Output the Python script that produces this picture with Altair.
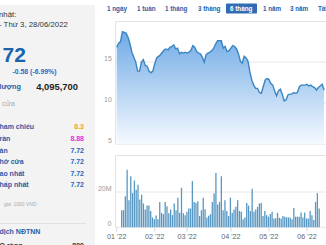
import altair as alt
import pandas as pd

# ---------------- data ----------------
months = ["01 '22", "02 '22", "03 '22", "04 '22", "05 '22", "06 '22"]
month_idx = [0, 20, 37, 60, 80, 100]

price = [16.8, 17.3, 17.5, 18.7, 18.6, 18.5, 18.0, 17.2, 16.2, 15.6,
         15.0, 13.9, 13.9, 15.0, 15.3, 14.6, 14.5, 13.9, 13.7, 13.9,
         14.8, 15.5, 15.7, 15.9, 16.2, 16.5, 16.6, 16.5, 16.8, 16.9,
         17.1, 16.6, 16.7, 16.0, 16.2, 16.1, 16.2, 16.1, 16.2, 16.4,
         17.0, 16.8, 16.3, 16.1, 16.0, 15.6, 15.0, 15.9, 16.1, 16.2,
         16.4, 16.7, 17.2, 17.6, 17.6, 17.6, 16.7, 16.9, 16.3, 16.4,
         16.7, 17.0, 16.9, 16.6, 16.0, 15.1, 14.9, 15.7, 15.5, 15.1,
         13.8, 12.8, 12.2, 11.8, 11.8, 11.3, 11.2, 12.0, 12.8, 13.0,
         12.9, 12.4, 12.2, 11.5, 10.9, 11.5, 11.7, 11.1, 10.3, 10.4,
         11.0, 11.1, 11.1, 11.3, 11.2, 11.3, 12.0, 12.2, 12.2, 12.2,
         12.3, 12.1, 12.2, 12.0, 11.9, 11.6, 11.9, 12.1, 12.3, 11.6]

volume = [9.7, 9.7, 17.6, 32.7, 15.3, 29.0, 19.4, 26.5, 21.3, 24.1,
          15.7, 18.5, 13.5, 10.1, 12.3, 12.3, 9.2, 5.6, 4.5, 6.7,
          4.5, 14.4, 8.2, 7.5, 14.4, 12.0, 7.9, 10.1, 6.9, 13.5,
          9.7, 16.8, 8.2, 22.4, 7.9, 6.9, 8.8, 10.7, 10.7, 26.2,
          14.4, 13.8, 14.8, 6.4, 9.7, 16.8, 10.3, 5.6, 6.5, 7.5,
          14.4, 19.1, 30.8, 12.9, 14.4, 29.0, 9.7, 15.3, 9.3, 6.4,
          16.8, 8.2, 10.1, 11.6, 15.3, 9.3, 8.8, 4.5, 5.6, 13.8,
          12.3, 9.2, 21.9, 8.8, 10.1, 11.6, 13.5, 13.8, 6.4, 9.3,
          6.9, 6.0, 7.5, 8.8, 5.0, 5.2, 8.2, 5.4, 5.0, 6.4,
          6.0, 5.6, 5.6, 5.6, 4.5, 11.0, 6.0, 6.0, 6.0, 8.4,
          5.6, 8.4, 5.0, 5.0, 9.2, 6.9, 4.1, 14.4, 19.4, 10.7]

price_ticks = [5, 10, 15]
vol_ticks = [0, 20]
vol_tick_text = ["0", "20M"]

buttons = ["1 ngày", "1 tuần", "1 tháng", "3 tháng", "6 tháng", "1 năm", "3 năm", "Tất cả"]
active_button = "6 tháng"

info_rows = [("ham chiếu", "8.3"), ("rần", "8.88"), ("àn", "7.72"),
             ("hở cửa", "7.72"), ("ao nhất", "7.72"), ("hấp nhất", "7.72")]

# ---------------- layout / style ----------------
F = "Liberation Sans"
BLUE_LBL = "#2a5ca8"
BLUE_VAL = "#1f6ac2"
row_colors = ["#f5a020", "#e22de2", BLUE_VAL, BLUE_VAL, BLUE_VAL, BLUE_VAL]
row_y = [127, 139, 151, 162, 174, 185]
button_x = [107, 137, 165, 198, 230, 263, 290, 318]

N = len(price)
XS = alt.Scale(domain=[0, 110], range=[116.7, 326.0], nice=False, zero=False)
PY = alt.Scale(domain=[5, 20], range=[144.3, 21], nice=False, zero=False)
VY = alt.Scale(domain=[0, 41], range=[227.3, 155], nice=False)

one = pd.DataFrame({"a": [0]})
df = pd.DataFrame({"i": list(range(N)), "p": price, "v": volume})
df_pt = pd.DataFrame({"t": price_ticks, "s": [str(t) for t in price_ticks]})
df_vt = pd.DataFrame({"t": vol_ticks, "s": vol_tick_text})
df_m = pd.DataFrame({"i": month_idx, "s": months})


def txt(s, x, y, size, color, weight="normal", align="left", baseline="middle"):
    return alt.Chart(one).mark_text(
        text=s, font=F, fontSize=size, color=color, fontWeight=weight,
        align=align, baseline=baseline
    ).encode(x=alt.value(x), y=alt.value(y))


def hline(x1, x2, y, color):
    return alt.Chart(one).mark_rule(color=color, strokeWidth=1).encode(
        x=alt.value(x1), x2=alt.value(x2), y=alt.value(y))


def vline(x, y1, y2, color):
    return alt.Chart(one).mark_rule(color=color, strokeWidth=1).encode(
        x=alt.value(x), y=alt.value(y1), y2=alt.value(y2))


def rect(x1, x2, y1, y2, color):
    return alt.Chart(one).mark_rect(color=color).encode(
        x=alt.value(x1), x2=alt.value(x2), y=alt.value(y1), y2=alt.value(y2))


layers = []
# left info panel
layers.append(rect(0, 95, 5, 245, "#f3f3f3"))
layers.append(hline(0, 86, 223.5, "#e2e2e2"))
layers.append(txt("nhật:", -1, 15, 7.8, "#333333"))
layers.append(txt("- Thứ 3, 28/06/2022", -1, 25, 7.8, "#333333"))
layers.append(txt("72", 2.5, 62, 21, "#1b63ad", "bold", baseline="alphabetic"))
layers.append(txt("-0.58 (-6.99%)", 12.5, 72, 6.9, BLUE_VAL, "bold"))
layers.append(txt("lượng", -0.5, 87, 7.3, BLUE_LBL, "bold"))
layers.append(txt("4,095,700", 78, 86.5, 9.4, "#222222", "bold", align="right"))
layers.append(txt("cửa", 2, 104, 7.5, "#aaaaaa"))
for (lbl, val), yy, c in zip(info_rows, row_y, row_colors):
    layers.append(txt(lbl, -0.5, yy, 7, BLUE_LBL, "bold"))
    layers.append(txt(val, 84, yy, 7, c, "bold", align="right"))
layers.append(txt("giá: 1000 VND", 4, 204, 5, "#aaaaaa"))
layers.append(txt("dịch NĐTNN", -0.5, 232, 7, BLUE_LBL, "bold"))
layers.append(txt("O ròng", -0.5, 241.5, 7, "#333333", "bold", baseline="top"))
layers.append(txt("800", 84, 241.5, 7, "#333333", "bold", align="right", baseline="top"))

# range buttons
for b, bx in zip(buttons, button_x):
    if b == active_button:
        layers.append(alt.Chart(one).mark_rect(color="#2f6cb3", cornerRadius=1).encode(
            x=alt.value(bx - 4), x2=alt.value(bx + 27), y=alt.value(3.5), y2=alt.value(13.5)))
        layers.append(txt(b, bx, 9, 6.3, "#ffffff", "bold"))
    else:
        layers.append(txt(b, bx, 9, 6.3, "#2461ad", "bold"))

# frame / gridlines
layers.append(hline(115.5, 326, 21.5, "#e3e3e3"))
layers.append(vline(115.5, 21.5, 144.5, "#dde3ee"))
layers.append(alt.Chart(df_pt).mark_rule(color="#e8e8e8").encode(
    y=alt.Y("t:Q", scale=PY, axis=None), x=alt.value(116), x2=alt.value(326)))
layers.append(hline(115.5, 326, 155.5, "#e3e3e3"))
layers.append(vline(115.5, 155.5, 227.5, "#dde3ee"))
layers.append(alt.Chart(df_vt).mark_rule(color="#e8e8e8").encode(
    y=alt.Y("t:Q", scale=VY, axis=None), x=alt.value(116), x2=alt.value(326)))

# price area + line
grad = alt.Gradient(gradient="linear",
                    stops=[alt.GradientStop(color="#70aae6", offset=0),
                           alt.GradientStop(color="#f6faff", offset=1)],
                    x1=1, x2=1, y1=0, y2=1)
layers.append(alt.Chart(df).mark_area(color=grad).encode(
    x=alt.X("i:Q", scale=XS, axis=None),
    y=alt.Y("p:Q", scale=PY, axis=None),
    y2=alt.datum(5)))
layers.append(alt.Chart(df).mark_line(color="#3a86c2", strokeWidth=1.4).encode(
    x=alt.X("i:Q", scale=XS, axis=None),
    y=alt.Y("p:Q", scale=PY, axis=None)))

# volume bars
layers.append(alt.Chart(df).mark_bar(color="#5797c2", size=1.3).encode(
    x=alt.X("i:Q", scale=XS, axis=None),
    y=alt.Y("v:Q", scale=VY, axis=None)))

# axis labels
layers.append(alt.Chart(df_pt).mark_text(font=F, fontSize=7, color="#999999", align="right",
                                         baseline="alphabetic", dy=-1).encode(
    y=alt.Y("t:Q", scale=PY, axis=None), x=alt.value(111.8), text="s:N"))
layers.append(alt.Chart(df_vt).mark_text(font=F, fontSize=7, color="#999999", align="right",
                                         baseline="alphabetic", dy=-1).encode(
    y=alt.Y("t:Q", scale=VY, axis=None), x=alt.value(111.5), text="s:N"))
layers.append(alt.Chart(df_m).mark_rule(color="#ccd6eb").encode(
    x=alt.X("i:Q", scale=XS, axis=None), y=alt.value(227.5), y2=alt.value(231.5)))
layers.append(alt.Chart(df_m).mark_text(font=F, fontSize=7.2, color="#666666", align="center",
                                        baseline="middle").encode(
    x=alt.X("i:Q", scale=XS, axis=None), y=alt.value(237), text="s:N"))

chart = alt.layer(*layers).resolve_scale(x="independent", y="independent").properties(
    width=326, height=245, padding=0, autosize=alt.AutoSizeParams(type="none"),
    background="white"
).configure_view(stroke=None)

chart.save("out.html", embed_options={"renderer": "svg", "actions": False})
